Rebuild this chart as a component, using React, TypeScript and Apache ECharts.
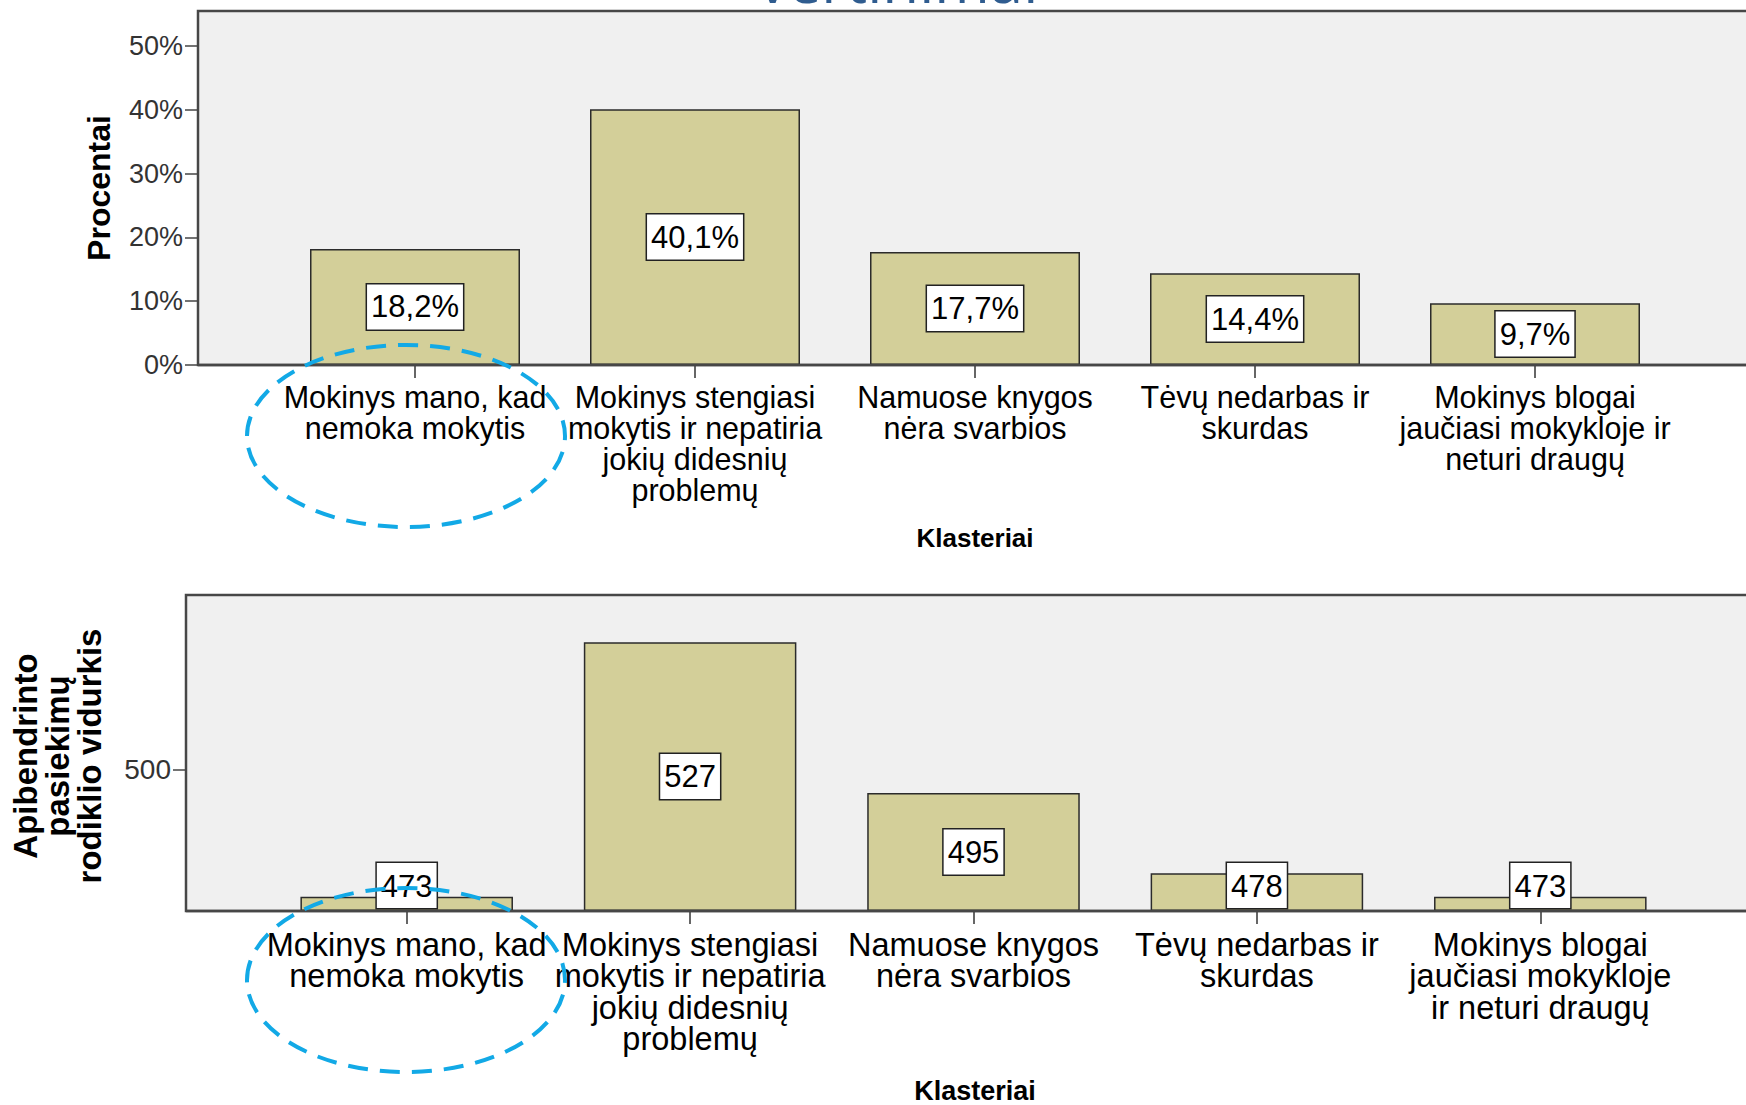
import React, { useEffect, useRef } from "react";
import * as echarts from "echarts";

// ---------- data ----------
const topCategories = [
  "Mokinys mano, kad\nnemoka mokytis",
  "Mokinys stengiasi\nmokytis ir nepatiria\njokių didesnių\nproblemų",
  "Namuose knygos\nnėra svarbios",
  "Tėvų nedarbas ir\nskurdas",
  "Mokinys blogai\njaučiasi mokykloje ir\nneturi draugų",
];
const bottomCategories = [
  "Mokinys mano, kad\nnemoka mokytis",
  "Mokinys stengiasi\nmokytis ir nepatiria\njokių didesnių\nproblemų",
  "Namuose knygos\nnėra svarbios",
  "Tėvų nedarbas ir\nskurdas",
  "Mokinys blogai\njaučiasi mokykloje\nir neturi draugų",
];
const percentValues = [18.2, 40.1, 17.7, 14.4, 9.7];
const meanValues = [473, 527, 495, 478, 473];
const percentTicks = [0, 10, 20, 30, 40, 50];
const meanTicks = [500];

const topYTitle = "Procentai";
const bottomYTitle = "Apibendrinto\npasiekimų\nrodiklio vidurkis";
const xTitle = "Klasteriai";
const titleFragment = "vertinimai";

// ---------- layout ----------
const W = 1746;
const H = 1105;
const FONT = '"Liberation Sans", Arial, sans-serif';

const TOP = {
  frameLeft: 198, frameTop: 11, axisY: 365, catLeft: 275, catRight: 1675, min: 0, max: 55.5,
  catFont: 30.5, catLine: 31, catMargin: 16, tickFont: 27, valueFont: 31,
};
const BOT = {
  frameLeft: 186, frameTop: 595, axisY: 911, catLeft: 265, catRight: 1682, min: 470, max: 537,
  catFont: 32.5, catLine: 31.5, catMargin: 18, tickFont: 28, valueFont: 31,
};

const BAR_COLOR = "#D3CF99";
const BAR_BORDER = "#2b2b2b";
const FRAME_COLOR = "#474747";
const PLOT_BG = "#F0F0F0";
const LABEL_BOX_H = 50;

function valueLabel(formatter: (p: any) => string, fontSize: number) {
  return {
    show: true,
    position: "inside",
    formatter,
    backgroundColor: "#ffffff",
    borderColor: "#222222",
    borderWidth: 1.5,
    padding: [8, 4, 6, 4],
    fontSize,
    color: "#000000",
    fontFamily: FONT,
  };
}

function xAxisFor(gridIndex: number, data: string[], L: any) {
  return {
    type: "category",
    gridIndex,
    data,
    axisLine: { show: false },
    axisTick: { show: true, alignWithLabel: true, length: 13, lineStyle: { color: "#333", width: 1.5 } },
    axisLabel: {
      interval: 0,
      fontSize: L.catFont,
      lineHeight: L.catLine,
      color: "#000",
      margin: L.catMargin,
      fontFamily: FONT,
      hideOverlap: false,
    },
    splitLine: { show: false },
  };
}

function yAxisFor(gridIndex: number, L: any, ticks: number[], fmt: string) {
  return {
    type: "value",
    gridIndex,
    min: L.min,
    max: L.max,
    startValue: L.min,
    offset: L.catLeft - L.frameLeft,
    axisLine: { show: false },
    axisTick: { show: true, length: 13, customValues: ticks, lineStyle: { color: "#444", width: 1.5 } },
    axisLabel: {
      customValues: ticks,
      formatter: fmt,
      fontSize: L.tickFont,
      color: "#333",
      margin: 15,
      fontFamily: FONT,
      padding: [4, 0, 0, 0],
    },
    splitLine: { show: false },
  };
}

export default function App() {
  const ref = useRef<HTMLDivElement | null>(null);

  useEffect(() => {
    if (!ref.current) return;
    const chart = echarts.init(ref.current, null, { renderer: "svg", width: W, height: H });

    const botPlotH = BOT.axisY - BOT.frameTop;
    const meanData = meanValues.map((v) => {
      const px = ((v - BOT.min) / (BOT.max - BOT.min)) * botPlotH;
      return px >= LABEL_BOX_H
        ? { value: v }
        : { value: v, label: { position: "insideBottom", distance: 3 } };
    });

    const axisTitleStyle = (text: string, fontSize: number, extra: any = {}) => ({
      text,
      fill: "#000",
      fontSize,
      fontWeight: "bold",
      fontFamily: FONT,
      align: "center",
      verticalAlign: "middle",
      ...extra,
    });

    const option: any = {
      animation: false,
      backgroundColor: "#ffffff",
      grid: [
        { left: TOP.catLeft, right: W - TOP.catRight, top: TOP.frameTop, height: TOP.axisY - TOP.frameTop },
        { left: BOT.catLeft, right: W - BOT.catRight, top: BOT.frameTop, height: BOT.axisY - BOT.frameTop },
      ],
      xAxis: [xAxisFor(0, topCategories, TOP), xAxisFor(1, bottomCategories, BOT)],
      yAxis: [yAxisFor(0, TOP, percentTicks, "{value}%"), yAxisFor(1, BOT, meanTicks, "{value}")],
      series: [
        {
          type: "bar",
          xAxisIndex: 0,
          yAxisIndex: 0,
          data: percentValues,
          barCategoryGap: "25%",
          itemStyle: { color: BAR_COLOR, borderColor: BAR_BORDER, borderWidth: 1.5 },
          label: valueLabel((p: any) => Number(p.value).toFixed(1).replace(".", ",") + "%", TOP.valueFont),
          z: 2,
        },
        {
          type: "bar",
          xAxisIndex: 1,
          yAxisIndex: 1,
          data: meanData,
          barCategoryGap: "25%",
          clip: true,
          itemStyle: { color: BAR_COLOR, borderColor: BAR_BORDER, borderWidth: 1.5 },
          label: valueLabel((p: any) => String(p.value), BOT.valueFont),
          z: 2,
        },
      ],
      graphic: [
        // plot frames
        {
          type: "rect",
          z: -10,
          silent: true,
          shape: { x: TOP.frameLeft, y: TOP.frameTop, width: W, height: TOP.axisY - TOP.frameTop },
          style: { fill: PLOT_BG, stroke: FRAME_COLOR, lineWidth: 2.5 },
        },
        {
          type: "rect",
          z: -10,
          silent: true,
          shape: { x: BOT.frameLeft, y: BOT.frameTop, width: W, height: BOT.axisY - BOT.frameTop },
          style: { fill: PLOT_BG, stroke: FRAME_COLOR, lineWidth: 2.5 },
        },
        // bottom axis lines drawn over the bars
        {
          type: "line",
          z: 50,
          silent: true,
          shape: { x1: TOP.frameLeft, y1: TOP.axisY, x2: W + 10, y2: TOP.axisY },
          style: { stroke: FRAME_COLOR, lineWidth: 2.5 },
        },
        {
          type: "line",
          z: 50,
          silent: true,
          shape: { x1: BOT.frameLeft, y1: BOT.axisY, x2: W + 10, y2: BOT.axisY },
          style: { stroke: FRAME_COLOR, lineWidth: 2.5 },
        },
        // clipped title fragment at the very top
        {
          type: "text",
          x: 898,
          y: 10,
          z: 5,
          style: {
            text: titleFragment,
            fill: "#2F5C8F",
            fontSize: 60,
            fontFamily: '"Open Sans", sans-serif',
            align: "center",
            verticalAlign: "bottom",
          },
        },
        // axis titles
        {
          type: "text",
          x: 99,
          y: 188,
          rotation: Math.PI / 2,
          style: axisTitleStyle(topYTitle, 32),
        },
        {
          type: "text",
          x: 57,
          y: 756,
          rotation: Math.PI / 2,
          style: axisTitleStyle(bottomYTitle, 33, { lineHeight: 32 }),
        },
        {
          type: "text",
          x: 975,
          y: 538,
          style: axisTitleStyle(xTitle, 26),
        },
        {
          type: "text",
          x: 975,
          y: 1091,
          style: axisTitleStyle(xTitle, 27),
        },
        // dashed highlight ellipses
        {
          type: "ellipse",
          z: 100,
          silent: true,
          shape: { cx: 406, cy: 436, rx: 159, ry: 91 },
          style: { fill: "none", stroke: "#12A9E6", lineWidth: 4, lineDash: [20, 12] },
        },
        {
          type: "ellipse",
          z: 100,
          silent: true,
          shape: { cx: 406, cy: 980, rx: 159, ry: 92 },
          style: { fill: "none", stroke: "#12A9E6", lineWidth: 4, lineDash: [20, 12] },
        },
      ],
    };

    chart.setOption(option);
    return () => {
      chart.dispose();
    };
  }, []);

  return (
    <div
      ref={ref}
      style={{ position: "absolute", left: 0, top: 0, width: W, height: H, background: "#fff" }}
    />
  );
}
